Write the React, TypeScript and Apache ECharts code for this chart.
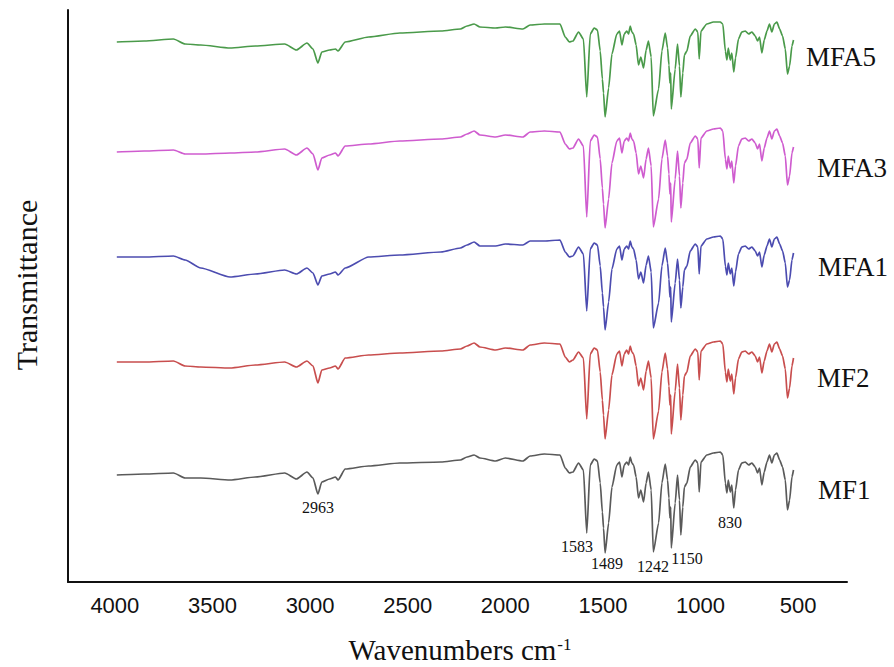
import React, { useEffect, useRef } from "react";
import * as echarts from "echarts";

// Wavenumbers (cm-1) shared by all spectra
const wavenumbers = [
  3990, 3850, 3700, 3640, 3560, 3410, 3280, 3130, 3070, 3016,
  2985, 2960, 2940, 2900, 2870, 2857, 2820, 2700, 2540, 2330,
  2230, 2196, 2160, 2130, 2050, 2000, 1910, 1873, 1800, 1720,
  1693, 1672, 1654, 1625, 1600, 1583, 1565, 1545, 1528, 1514,
  1503, 1497, 1489, 1471, 1454, 1429, 1415, 1403, 1391, 1378,
  1369, 1360, 1352, 1343, 1330, 1318, 1306, 1292, 1279, 1267,
  1253, 1242, 1215, 1198, 1181, 1169, 1162, 1157, 1153, 1150,
  1130, 1118, 1108, 1101, 1091, 1083, 1070, 1053, 1027, 1014,
  1007, 998, 968, 934, 899, 886, 873, 865, 858, 848,
  840, 830, 821, 806, 789, 771, 754, 737, 720, 708,
  698, 686, 674, 660, 647, 635, 622, 609, 595, 580,
  566, 555, 544, 532, 524,
];

// Transmittance (a.u.) of each spectrum
const mf1 = [
  10.7, 10.8, 10.9, 10.4, 10.4, 10.2, 10.5, 10.9, 10.3, 11.0,
  10.4, 8.8, 10.0, 10.3, 10.5, 10.2, 11.3, 11.6, 11.9, 12.0,
  12.2, 12.5, 12.7, 12.4, 12.1, 12.4, 12.1, 12.6, 12.8, 12.7,
  11.4, 10.9, 11.0, 11.9, 11.2, 4.9, 11.7, 12.3, 12.1, 9.9,
  7.0, 5.4, 2.9, 5.9, 9.5, 11.7, 12.0, 10.5, 11.7, 12.0,
  11.7, 12.5, 11.9, 11.7, 10.5, 8.4, 9.2, 8.0, 9.9, 11.0,
  9.2, 3.0, 5.9, 9.9, 11.8, 10.2, 8.4, 6.4, 7.5, 3.4,
  7.9, 10.7, 8.2, 4.7, 7.5, 9.5, 9.9, 11.5, 12.2, 11.9,
  9.0, 12.0, 12.7, 12.9, 13.0, 12.7, 9.9, 8.9, 10.2, 9.0,
  9.7, 7.4, 9.2, 11.2, 11.9, 12.0, 11.7, 11.9, 11.5, 10.9,
  11.4, 9.7, 11.0, 12.0, 12.7, 11.9, 12.7, 12.9, 12.2, 11.5,
  10.2, 7.2, 8.2, 10.5, 11.2,
];
const mf2 = [
  10.9, 10.9, 11.0, 10.5, 10.4, 10.3, 10.6, 10.9, 10.4, 11.0,
  10.5, 8.8, 10.1, 10.3, 10.5, 10.2, 11.3, 11.6, 11.8, 12.0,
  12.2, 12.5, 12.8, 12.4, 12.1, 12.3, 12.1, 12.6, 12.8, 12.7,
  11.4, 10.9, 11.1, 11.9, 11.3, 5.2, 11.7, 12.3, 12.1, 9.9,
  7.1, 5.6, 3.2, 6.1, 9.6, 11.7, 12.0, 10.5, 11.7, 12.1,
  11.7, 12.5, 11.9, 11.7, 10.5, 8.5, 9.3, 8.1, 10.0, 11.0,
  9.3, 3.2, 6.0, 9.9, 11.8, 10.2, 8.5, 6.6, 7.6, 3.7,
  8.0, 10.7, 8.3, 5.1, 7.6, 9.5, 9.9, 11.5, 12.2, 11.9,
  9.1, 12.0, 12.7, 12.9, 13.0, 12.7, 9.9, 8.9, 10.2, 9.0,
  9.7, 7.7, 9.3, 11.2, 11.9, 12.0, 11.7, 11.9, 11.5, 10.9,
  11.4, 9.8, 11.0, 12.0, 12.7, 11.9, 12.7, 12.9, 12.2, 11.5,
  10.2, 7.3, 8.3, 10.5, 11.3,
];
const mfa1 = [
  10.8, 10.8, 10.9, 10.5, 9.7, 8.8, 9.1, 9.5, 9.1, 9.7,
  9.2, 8.0, 8.9, 9.1, 9.3, 9.0, 9.7, 10.8, 11.0, 11.3,
  11.7, 12.0, 12.3, 11.9, 11.9, 12.1, 12.0, 12.4, 12.4, 12.5,
  11.3, 10.8, 10.9, 11.8, 11.1, 5.4, 11.6, 12.2, 12.0, 9.9,
  7.2, 5.8, 3.5, 6.3, 9.6, 11.6, 11.9, 10.5, 11.6, 11.9,
  11.6, 12.4, 11.8, 11.6, 10.5, 8.6, 9.3, 8.2, 10.0, 10.9,
  9.3, 3.7, 6.2, 9.9, 11.7, 10.2, 8.6, 6.8, 7.8, 4.3,
  8.2, 10.6, 8.5, 5.7, 7.8, 9.5, 9.9, 11.4, 12.1, 11.8,
  9.1, 11.9, 12.6, 12.8, 12.9, 12.6, 9.9, 9.0, 10.2, 9.1,
  9.7, 7.9, 9.3, 11.1, 11.8, 11.9, 11.6, 11.8, 11.4, 10.9,
  11.3, 9.8, 11.0, 11.9, 12.6, 11.8, 12.6, 12.8, 12.1, 11.4,
  10.2, 7.8, 8.5, 10.5, 11.2,
];
const mfa3 = [
  10.5, 10.6, 10.7, 10.3, 10.3, 10.4, 10.5, 10.8, 10.2, 10.9,
  10.3, 8.7, 9.9, 10.2, 10.4, 10.1, 11.1, 11.3, 11.6, 11.8,
  12.0, 12.3, 12.6, 12.2, 12.0, 12.2, 12.0, 12.5, 12.6, 12.5,
  11.3, 10.8, 10.9, 11.8, 11.1, 4.0, 11.6, 12.2, 12.0, 9.8,
  6.9, 5.3, 2.9, 5.8, 9.4, 11.6, 11.9, 10.4, 11.6, 11.9,
  11.6, 12.4, 11.8, 11.6, 10.4, 8.3, 9.1, 7.9, 9.8, 10.9,
  9.1, 3.0, 5.8, 9.8, 11.7, 10.1, 8.3, 6.3, 7.4, 3.5,
  7.8, 10.6, 8.1, 4.9, 7.4, 9.4, 9.8, 11.4, 12.1, 11.8,
  8.9, 11.9, 12.6, 12.8, 12.9, 12.6, 9.8, 8.8, 10.1, 8.9,
  9.6, 7.4, 9.1, 11.1, 11.8, 11.9, 11.6, 11.8, 11.4, 10.8,
  11.3, 9.6, 10.9, 11.9, 12.6, 11.8, 12.6, 12.8, 12.1, 11.4,
  10.1, 7.2, 8.1, 10.4, 11.0,
];
const mfa5 = [
  10.7, 10.8, 11.0, 10.5, 10.4, 10.1, 10.3, 10.5, 9.9, 10.6,
  10.0, 8.6, 9.7, 9.9, 10.0, 9.8, 10.7, 11.2, 11.6, 11.8,
  12.0, 12.3, 12.5, 12.2, 12.1, 12.2, 12.0, 12.4, 12.5, 12.5,
  11.2, 10.7, 10.8, 11.7, 11.0, 5.2, 11.5, 12.1, 11.9, 9.8,
  7.0, 5.6, 3.2, 6.1, 9.5, 11.5, 11.8, 10.4, 11.5, 11.8,
  11.5, 12.3, 11.7, 11.5, 10.4, 8.4, 9.2, 8.1, 9.9, 10.8,
  9.2, 3.3, 6.0, 9.8, 11.6, 10.1, 8.4, 6.6, 7.6, 4.0,
  8.0, 10.5, 8.3, 5.2, 7.6, 9.4, 9.8, 11.3, 12.0, 11.7,
  9.0, 11.8, 12.5, 12.7, 12.7, 12.5, 9.8, 8.9, 10.1, 8.9,
  9.6, 7.7, 9.1, 11.0, 11.7, 11.8, 11.5, 11.7, 11.3, 10.8,
  11.2, 9.6, 10.9, 11.8, 12.5, 11.7, 12.5, 12.7, 12.0, 11.3,
  10.0, 7.5, 8.3, 10.3, 10.9,
];

const seriesNames = ["MF1", "MF2", "MFA1", "MFA3", "MFA5"];
const seriesValues = [mf1, mf2, mfa1, mfa3, mfa5];
// vertical stacking offsets of the spectra (a.u.)
const stackOffsets = [0, 11.1, 21.7, 32.5, 43.3];
const seriesColors = ["#5a5a5a", "#c84e4e", "#4c4cb0", "#cf5ccf", "#4a9a4a"];

const tickLabels = [4000, 3500, 3000, 2500, 2000, 1500, 1000, 500];
const peakLabels = ["2963", "1583", "1489", "1242", "1150", "830"];

const serif = "'Liberation Serif', 'Times New Roman', serif";
const sans = "'Liberation Sans', Arial, sans-serif";

export default function App() {
  const ref = useRef<HTMLDivElement>(null);

  useEffect(() => {
    document.body.style.margin = "0";
    if (!ref.current) return;
    const chart = echarts.init(ref.current, undefined, { renderer: "svg" });

    const series = seriesNames.map((name, k) => ({
      name,
      type: "line",
      symbol: "none",
      showSymbol: false,
      smooth: 0.2,
      smoothMonotone: "x",
      lineStyle: { color: seriesColors[k], width: 1.7 },
      itemStyle: { color: seriesColors[k] },
      data: wavenumbers.map((w, i) => [w, seriesValues[k][i] + stackOffsets[k]]),
    }));

    const namePos = [
      { x: 818, y: 490 },
      { x: 817, y: 378 },
      { x: 818, y: 267 },
      { x: 817, y: 168 },
      { x: 806, y: 57 },
    ];
    const peakPos = [
      { x: 318, y: 507 },
      { x: 577, y: 546 },
      { x: 607, y: 563 },
      { x: 653, y: 566 },
      { x: 687, y: 558 },
      { x: 730, y: 522 },
    ];

    const graphics: any[] = [];
    seriesNames.forEach((n, k) => {
      graphics.push({
        type: "text",
        x: namePos[k].x,
        y: namePos[k].y,
        style: {
          text: n,
          fill: "#111",
          font: `27px ${serif}`,
          align: "left",
          verticalAlign: "middle",
        },
      });
    });
    peakLabels.forEach((p, k) => {
      graphics.push({
        type: "text",
        x: peakPos[k].x,
        y: peakPos[k].y,
        style: {
          text: p,
          fill: "#111",
          font: `16px ${serif}`,
          align: "center",
          verticalAlign: "middle",
        },
      });
    });
    graphics.push({
      type: "text",
      x: 460,
      y: 650,
      style: {
        text: "{a|Wavenumbers cm}{b|-1}",
        align: "center",
        verticalAlign: "middle",
        rich: {
          a: { font: `29px ${serif}`, fill: "#111", verticalAlign: "bottom" },
          b: { font: `17px ${serif}`, fill: "#111", verticalAlign: "top", padding: [0, 0, 12, 1] },
        },
      },
    });
    graphics.push({
      type: "text",
      x: 26,
      y: 285,
      rotation: Math.PI / 2,
      style: {
        text: "Transmittance",
        fill: "#111",
        font: `30px ${serif}`,
        align: "center",
        verticalAlign: "middle",
      },
    });

    chart.setOption({
      animation: false,
      grid: { left: 68, right: 47, top: 10, bottom: 85, containLabel: false },
      xAxis: {
        type: "value",
        min: 250,
        max: 4240,
        interval: 250,
        inverse: true,
        axisLine: { show: true, onZero: false, lineStyle: { color: "#111", width: 2 } },
        axisTick: { show: false },
        splitLine: { show: false },
        axisLabel: {
          margin: 12,
          fontFamily: sans,
          fontSize: 22,
          color: "#111",
          showMinLabel: false,
          showMaxLabel: false,
          formatter: (v: number) => (tickLabels.includes(v) ? String(v) : ""),
        },
      },
      yAxis: {
        type: "value",
        min: 0,
        max: 57.2,
        axisLine: { show: true, onZero: false, lineStyle: { color: "#111", width: 2 } },
        axisTick: { show: false },
        axisLabel: { show: false },
        splitLine: { show: false },
      },
      series,
      graphic: graphics,
    });

    return () => chart.dispose();
  }, []);

  return <div ref={ref} style={{ width: 894, height: 667 }} />;
}
